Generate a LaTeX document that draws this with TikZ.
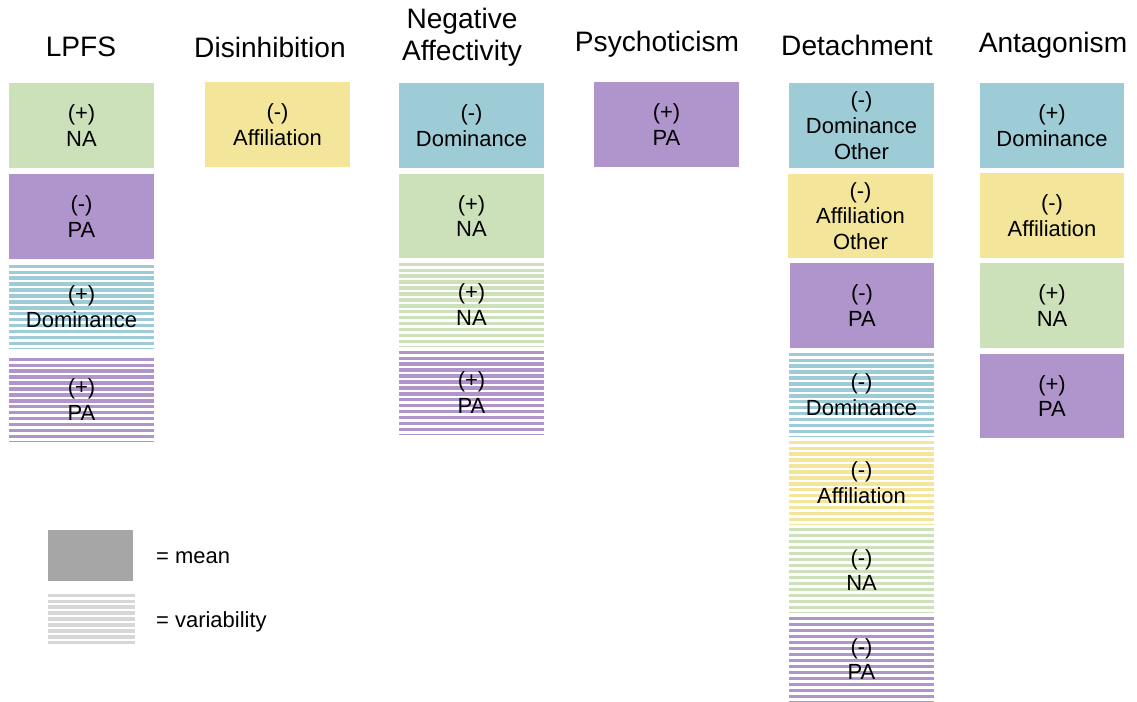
\documentclass[tikz,border=0pt]{standalone}
\usepackage{fontspec}
\setmainfont{Liberation Sans}

\definecolor{dombl}{RGB}{157,203,214}
\definecolor{nagr}{RGB}{204,224,186}
\definecolor{papu}{RGB}{176,148,204}
\definecolor{affye}{RGB}{243,229,153}
\definecolor{legray}{RGB}{166,166,166}

\tikzset{
  trait/.style={font=\fontsize{16}{18}\selectfont, align=center},
  meanbox/.style={fill=#1, minimum width=2.9cm, minimum height=1.7cm, inner sep=0pt,
    align=center, font=\fontsize{12.5}{14.7}\selectfont},
  varbox/.style={minimum width=2.9cm, minimum height=1.7cm, inner sep=0pt,
    align=center, font=\fontsize{12.5}{14.7}\selectfont,
    path picture={
      \foreach \k in {0,...,15}
        \draw[#1, line width=1.8pt]
          ([yshift=-1.2pt-\k*3.4pt]path picture bounding box.north west) --
          ([yshift=-1.2pt-\k*3.4pt]path picture bounding box.north east);
    }},
  legtext/.style={anchor=west, font=\fontsize{12.5}{14.7}\selectfont}
}

\begin{document}
\begin{tikzpicture}[x=0.02cm, y=-0.02cm]
        \useasboundingbox (0, 0) rectangle (1137, 702);

        % headers
        \node[trait] (hlpfs) at (81, 47) {LPFS};
        \node[trait] (hdis) at (270, 47) {Disinhibition};
        \node[trait] (hneg) at (462, 37) {Negative\\Affectivity};
        \node[trait] (hpsy) at (657, 44) {Psychoticism};
        \node[trait] (hdet) at (857, 45) {Detachment};
        \node[trait] (hant) at (1053, 45) {Antagonism};

        % LPFS
        \node[meanbox=nagr] (lp1) at (81.5, 125.5) {(+)\\NA};
        \node[meanbox=papu] (lp2) at (81.5, 216.5) {(-)\\PA};
        \node[varbox=dombl] (lp3) at (81.5, 306.5) {(+)\\Dominance};
        \node[varbox=papu] (lp4) at (81.5, 399.5) {(+)\\PA};

        % Disinhibition
        \node[meanbox=affye] (di1) at (277.5, 124.5) {(-)\\Affiliation};

        % Negative Affectivity
        \node[meanbox=dombl] (na1) at (471.5, 125.5) {(-)\\Dominance};
        \node[meanbox=nagr] (na2) at (471.5, 216) {(+)\\NA};
        \node[varbox=nagr] (na3) at (471.5, 304.5) {(+)\\NA};
        \node[varbox=papu] (na4) at (471.5, 392.5) {(+)\\PA};

        % Psychoticism
        \node[meanbox=papu] (ps1) at (666.5, 124.5) {(+)\\PA};

        % Detachment
        \node[meanbox=dombl] (de1) at (861.5, 125.5) {(-)\\Dominance\\Other};
        \node[meanbox=affye] (de2) at (860.5, 216) {(-)\\Affiliation\\Other};
        \node[meanbox=papu] (de3) at (862, 305.5) {(-)\\PA};
        \node[varbox=dombl] (de4) at (861.5, 394.5) {(-)\\Dominance};
        \node[varbox=affye] (de5) at (861.5, 482.5) {(-)\\Affiliation};
        \node[varbox=nagr] (de6) at (861.5, 570) {(-)\\NA};
        \node[varbox=papu] (de7) at (861.5, 659) {(-)\\PA};

        % Antagonism
        \node[meanbox=dombl] (an1) at (1052, 125.5) {(+)\\Dominance};
        \node[meanbox=affye] (an2) at (1052, 215.5) {(-)\\Affiliation};
        \node[meanbox=nagr] (an3) at (1052, 305.5) {(+)\\NA};
        \node[meanbox=papu] (an4) at (1052, 396) {(+)\\PA};

        % legend
        \node[meanbox=legray, minimum width=1.7cm, minimum height=1.02cm] (legmean) at (90.5, 555.5) {};
        \node[varbox=legray!45, minimum width=1.74cm, minimum height=1.04cm] (legvar) at (91.5, 619) {};
        \node[legtext] (tmean) at (150, 558) {= mean};
        \node[legtext] (tvar) at (150, 622) {= variability};
    \end{tikzpicture}
\end{document}
